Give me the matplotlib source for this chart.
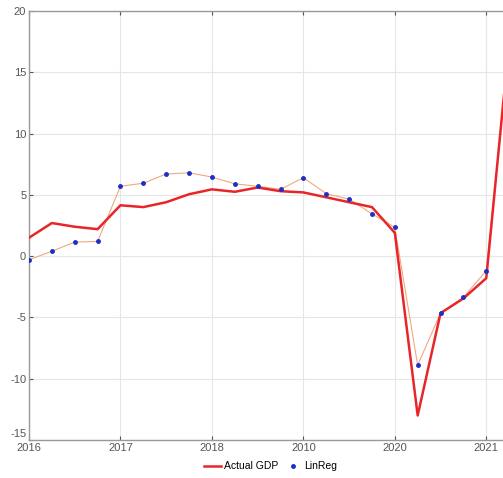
import numpy as np
import matplotlib.pyplot as plt
from matplotlib.transforms import ScaledTranslation

plt.rcParams['font.family'] = ['Liberation Sans', 'DejaVu Sans']
plt.rcParams['axes.unicode_minus'] = False

# quarterly dates, 2016Q1 .. 2021Q2
quarters = np.arange(2016, 2021.5, 0.25)
actual_gdp = [1.5, 2.7, 2.4, 2.2, 4.15, 4.0, 4.4, 5.05, 5.45, 5.25, 5.6, 5.3,
              5.2, 4.8, 4.4, 4.0, 1.9, -13.0, -4.65, -3.45, -1.8, 17.5]
linreg = [-0.3, 0.4, 1.15, 1.2, 5.7, 5.95, 6.7, 6.8, 6.45, 5.9, 5.7, 5.45,
          6.4, 5.1, 4.65, 3.45, 2.35, -8.9, -4.65, -3.35, -1.2, 17.0]

xticks = [2016, 2017, 2018, 2019, 2020, 2021]
xticklabels = ['2016', '2017', '2018', '2010', '2020', '2021']
yticks = [-15, -10, -5, 0, 5, 10, 15, 20]

fig = plt.figure(figsize=(5.03, 4.78), dpi=100)
ax = fig.add_axes([29/503, 38/478, 503/503, 429/478])

ax.plot(quarters, linreg, color='#f0a880', lw=0.8, zorder=2)
ax.plot(quarters, actual_gdp, color='#e8262a', lw=1.8, label='Actual GDP', zorder=3)
ax.plot(quarters, linreg, '.', color='#1a2fc8', ms=5, label='LinReg', zorder=4)

ax.set_xlim(2016, 2021.5)
ax.set_ylim(-15, 20)
ax.set_xticks(xticks)
ax.set_xticklabels(xticklabels)
ax.set_yticks(yticks)
ax.grid(True, color='#e6e6e6', lw=0.8)
ax.set_axisbelow(True)
ax.tick_params(direction='in', length=3, labelsize=8, colors='#555555',
               top=True, pad=2)
for s in ax.spines.values():
    s.set_color('#999999')
    s.set_linewidth(1.0)

# bottom y label sits a bit higher, like the original
lab = ax.get_yticklabels()[0]
lab.set_transform(lab.get_transform() + ScaledTranslation(0, 5/72, fig.dpi_scale_trans))

ax.legend(loc='upper center', bbox_to_anchor=(0.48, -0.028), ncol=2,
          frameon=False, fontsize=7.5, handlelength=1.6, handletextpad=0.3,
          columnspacing=0.6)

fig.savefig('out.png', dpi=100)
